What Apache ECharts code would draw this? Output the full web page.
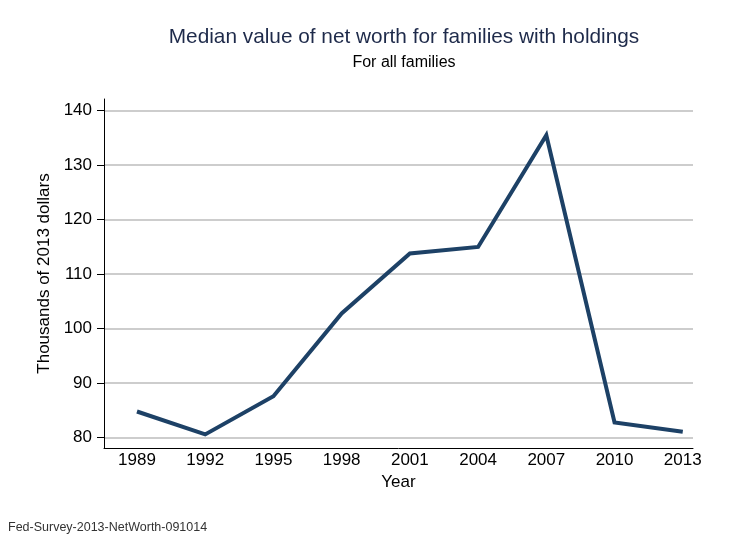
<!DOCTYPE html>
<html>
<head>
<meta charset="utf-8">
<script src="https://cdn.jsdelivr.net/npm/echarts@6/dist/echarts.min.js"></script>
<style>html,body{margin:0;padding:0;background:#fff;}#c{width:729px;height:538px;}</style>
</head>
<body>
<div id="c"></div>
<script>
var years = [1989, 1992, 1995, 1998, 2001, 2004, 2007, 2010, 2013];
var netWorth = [84.8, 80.6, 87.6, 102.8, 113.8, 115.0, 135.5, 82.8, 81.1];
var yTicks = [80, 90, 100, 110, 120, 130, 140];
var titleText = 'Median value of net worth for families with holdings';
var subtitleText = 'For all families';
var yName = 'Thousands of 2013 dollars';
var xName = 'Year';
var footnote = 'Fed-Survey-2013-NetWorth-091014';

var font = 'Liberation Sans, Arial, Helvetica, sans-serif';
var chart = echarts.init(document.getElementById('c'));
chart.setOption({
  backgroundColor: '#ffffff',
  animation: false,
  title: [
    { text: titleText, left: 399, top: 22, textAlign: 'center',
      textStyle: { fontFamily: font, fontSize: 20.8, fontWeight: 'normal', color: '#1e2a4a' } },
    { text: subtitleText, left: 399, top: 50, textAlign: 'center',
      textStyle: { fontFamily: font, fontSize: 16, fontWeight: 'normal', color: '#000' } },
    { text: footnote, left: 3, top: 516,
      textStyle: { fontFamily: font, fontSize: 12.5, fontWeight: 'normal', color: '#333' } }
  ],
  grid: { left: 104, right: 36, top: 99, bottom: 90, containLabel: false },
  xAxis: {
    type: 'value', min: 1987.55, max: 2013.45,
    name: xName, nameLocation: 'middle', nameGap: 23,
    nameTextStyle: { fontFamily: font, fontSize: 17, color: '#000' },
    axisLine: { show: true, onZero: false, lineStyle: { color: '#000', width: 1 } },
    axisTick: { show: false, customValues: years },
    axisLabel: { customValues: years, fontFamily: font, fontSize: 17, color: '#000', margin: 4,
      formatter: function (v) { return String(v); } },
    splitLine: { show: false }
  },
  yAxis: {
    type: 'value', min: 78.1, max: 142.15,
    name: yName, nameLocation: 'middle', nameGap: 48,
    nameTextStyle: { fontFamily: font, fontSize: 17, color: '#000' },
    axisLine: { show: true, onZero: false, lineStyle: { color: '#000', width: 1 } },
    axisTick: { show: true, inside: false, customValues: yTicks, length: 7, lineStyle: { color: '#000', width: 1 } },
    axisLabel: { customValues: yTicks, fontFamily: font, fontSize: 17, color: '#000', margin: 12,
      formatter: function (v) { return String(v); } },
    splitLine: { show: true, lineStyle: { color: '#bdbdbd', width: 1.5 } }
  },
  series: [{
    type: 'line',
    data: years.map(function (y, i) { return [y, netWorth[i]]; }),
    symbol: 'none',
    lineStyle: { color: '#1d4166', width: 4, join: 'miter' },
    itemStyle: { color: '#1d4166' }
  }]
});
</script>
</body>
</html>
